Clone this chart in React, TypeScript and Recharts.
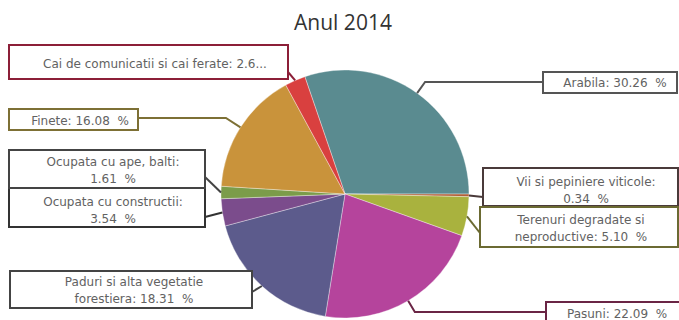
import React from 'react';
import { PieChart, Pie, Cell } from 'recharts';

const CATEGORIES = [
  'Arabila',
  'Vii si pepiniere viticole',
  'Terenuri degradate si neproductive',
  'Pasuni',
  'Paduri si alta vegetatie forestiera',
  'Ocupata cu constructii',
  'Ocupata cu ape, balti',
  'Finete',
  'Cai de comunicatii si cai ferate',
];
const SHARES = [30.26, 0.34, 5.1, 22.09, 18.31, 3.54, 1.61, 16.08, 2.67];
const LABEL_TEXT = [
  ['Arabila: 30.26  %'],
  ['Vii si pepiniere viticole:', '0.34  %'],
  ['Terenuri degradate si', 'neproductive: 5.10  %'],
  ['Pasuni: 22.09  %'],
  ['Paduri si alta vegetatie', 'forestiera: 18.31  %'],
  ['Ocupata cu constructii:', '3.54  %'],
  ['Ocupata cu ape, balti:', '1.61  %'],
  ['Finete: 16.08  %'],
  ['Cai de comunicatii si cai ferate: 2.6...'],
];

const COLORS = ['#5a8b90', '#b0603a', '#a9b23e', '#b5449c', '#5c5b8c', '#7b4c8c', '#7b9c4a', '#c9933b', '#d9403f'];
const BORDERS = ['#555555', '#4a3a3a', '#6b6a32', '#6a2545', '#444444', '#333333', '#444444', '#7d7035', '#8c1f38'];

// label boxes: x, y, w, h, anchor x/y for the leader, elbow (y level or null), text center x, first line y
const BOXES = [
  { x: 543, y: 72, w: 134, h: 21, ax: 543, ay: 82, elbow: 82, tx: 615, ty: 87 },
  { x: 483, y: 168, w: 195, h: 38, ax: 483, ay: 197, elbow: null, tx: 586, ty: 186 },
  { x: 480, y: 207, w: 198, h: 40, ax: 480, ay: 233, elbow: null, tx: 581, ty: 224 },
  { x: 546, y: 302, w: 140, h: 30, ax: 546, ay: 312, elbow: 312, tx: 617, ty: 318 },
  { x: 10, y: 271, w: 242, h: 37, ax: 252, ay: 292, elbow: null, tx: 134, ty: 286 },
  { x: 9, y: 188, w: 196, h: 39, ax: 205, ay: 217, elbow: null, tx: 113, ty: 206 },
  { x: 9, y: 150, w: 196, h: 38, ax: 205, ay: 177, elbow: null, tx: 113, ty: 166 },
  { x: 9, y: 109, w: 129, h: 21, ax: 138, ay: 118, elbow: 118, tx: 80, ty: 125 },
  { x: 9, y: 45, w: 279, h: 34, ax: 288, ay: 72, elbow: null, tx: 155, ty: 68 },
];

const data = CATEGORIES.map((name, i) => ({ name, value: SHARES[i] }));
const RADIAN = Math.PI / 180;

const renderLabel = (props: any) => {
  const { cx, cy, midAngle, outerRadius, index } = props;
  const b = BOXES[index];
  const cos = Math.cos(-midAngle * RADIAN);
  const sin = Math.sin(-midAngle * RADIAN);
  const ex = cx + outerRadius * cos;
  const ey = cy + outerRadius * sin;
  const pts: number[][] = [[ex, ey]];
  if (b.elbow !== null && Math.abs(sin) > 0.01) {
    const t = (b.elbow - ey) / sin;
    pts.push([ex + t * cos, b.elbow]);
  }
  pts.push([b.ax, b.ay]);
  const lines = LABEL_TEXT[index];
  return (
    <g key={`lbl-${index}`}>
      <polyline points={pts.map((p) => p.join(',')).join(' ')} fill="none" stroke={BORDERS[index]} strokeWidth={2} />
      <rect x={b.x} y={b.y} width={b.w} height={b.h} fill="#ffffff" stroke={BORDERS[index]} strokeWidth={2} />
      {lines.map((l, j) => (
        <text
          key={j}
          x={b.tx}
          y={b.ty + j * 17}
          textAnchor="middle"
          fill="#626262"
          fontSize={12}
          fontFamily="'DejaVu Sans', sans-serif"
          style={{ whiteSpace: 'pre' }}
        >
          {l}
        </text>
      ))}
    </g>
  );
};

export default function App() {
  return (
    <div style={{ position: 'absolute', left: 0, top: 0, width: 679, height: 320, background: '#ffffff', overflow: 'hidden' }}>
      <div
        style={{
          position: 'absolute',
          left: 0,
          top: 8,
          width: 686,
          textAlign: 'center',
          fontFamily: "'Open Sans', sans-serif",
          fontSize: 21,
          color: '#333333',
          lineHeight: '28px',
        }}
      >
        Anul 2014
      </div>
      <PieChart width={679} height={320} margin={{ top: 0, right: 0, bottom: 0, left: 0 }}>
        <Pie
          data={data}
          dataKey="value"
          nameKey="name"
          cx={345}
          cy={194}
          outerRadius={124}
          startAngle={108.9}
          endAngle={-251.1}
          stroke="rgba(255,255,255,0.35)"
          strokeWidth={1}
          label={renderLabel}
          labelLine={false}
          isAnimationActive={false}
        >
          {data.map((d, i) => (
            <Cell key={d.name} fill={COLORS[i]} />
          ))}
        </Pie>
      </PieChart>
    </div>
  );
}
